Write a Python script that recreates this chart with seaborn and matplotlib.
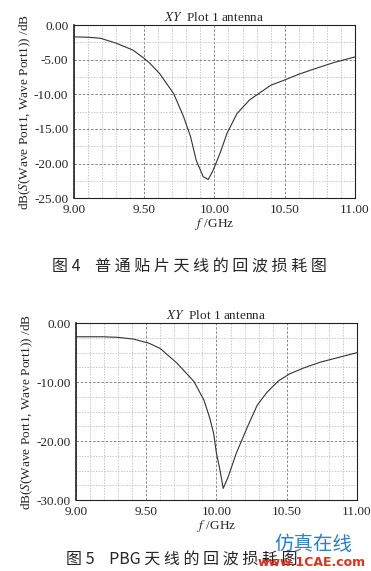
import numpy as np
import pandas as pd
import matplotlib
matplotlib.use("Agg")
import matplotlib.pyplot as plt
from matplotlib.ticker import MultipleLocator
import seaborn as sns

# données (fréquence en GHz, S11 en dB)
freq_patch = [9.00, 9.10, 9.19, 9.30, 9.42, 9.50, 9.54, 9.61, 9.71, 9.78, 9.83, 9.87, 9.92,
              9.956, 9.99, 10.04, 10.09, 10.16, 10.25, 10.40, 10.49, 10.60, 10.70,
              10.85, 11.00]
s11_patch = [-1.7, -1.75, -1.9, -2.6, -3.6, -4.8, -5.5, -7.0, -9.9, -13.2, -16.1, -19.5,
             -21.9, -22.3, -21.0, -18.5, -15.6, -12.8, -10.8, -8.7, -8.0, -7.1, -6.4,
             -5.4, -4.6]

freq_pbg = [9.00, 9.19, 9.30, 9.41, 9.52, 9.60, 9.72, 9.84, 9.91, 9.95, 9.98, 10.00,
            10.025, 10.048, 10.084, 10.14, 10.22, 10.29, 10.36, 10.44, 10.52, 10.62,
            10.74, 10.87, 11.00]
s11_pbg = [-2.3, -2.3, -2.4, -2.7, -3.4, -4.3, -6.8, -9.9, -13.0, -15.9, -18.7, -22.1,
           -24.9, -28.0, -26.0, -22.1, -17.6, -13.9, -11.7, -9.8, -8.6, -7.6, -6.6,
           -5.8, -5.0]

yticks_patch = [0, -5, -10, -15, -20, -25]
yticks_pbg = [0, -10, -20, -30]
xticks = [9.0, 9.5, 10.0, 10.5, 11.0]

sns.set_style("white")
plt.rcParams["font.family"] = ["Liberation Serif", "Noto Sans CJK SC", "DejaVu Sans"]
plt.rcParams["mathtext.fontset"] = "stix"

fig = plt.figure(figsize=(3.71, 5.71), dpi=100)
ax1 = fig.add_axes([0.199, 0.653, 0.758, 0.303])
ax2 = fig.add_axes([0.205, 0.124, 0.757, 0.310])


def trace(ax, f, s, yt, ymin):
    df = pd.DataFrame({"f": f, "s": s})
    sns.lineplot(data=df, x="f", y="s", ax=ax, color="#333333", linewidth=0.8)
    ax.set_xlim(9.0, 11.0)
    ax.set_ylim(ymin, 0)
    ax.set_xticks(xticks)
    ax.set_xticklabels([f"{v:.2f}" for v in xticks], fontsize=9.5)
    ax.set_yticks(yt)
    ax.set_yticklabels([f"{v:.2f}" for v in yt], fontsize=9.5)
    ax.xaxis.set_minor_locator(MultipleLocator(0.1))
    ax.yaxis.set_minor_locator(MultipleLocator(2.5))
    ax.grid(True, which="major", color="#777777", linestyle=(0, (3, 2)), linewidth=0.6)
    ax.grid(True, which="minor", color="#b0b0b0", linestyle=(0, (2, 2)), linewidth=0.5)
    ax.tick_params(axis="x", which="both", length=0, pad=4)
    ax.tick_params(axis="y", which="major", length=3, width=0.8, direction="out", pad=1)
    ax.tick_params(axis="y", which="minor", length=0)
    for sp in ax.spines.values():
        sp.set_color("#222222")
        sp.set_linewidth(0.8)
    ax.spines["left"].set_linewidth(1.2)
    ax.set_title(r"$\it{XY}$  Plot 1 antenna", fontsize=9.5, pad=3)
    ax.set_xlabel(r"$\it{f}$ /GHz", fontsize=9.5, labelpad=0)
    ax.set_ylabel(r"dB($\it{S}$(Wave Port1, Wave Port1)) /dB", fontsize=9.5, labelpad=1)


trace(ax1, freq_patch, s11_patch, yticks_patch, -25)
trace(ax2, freq_pbg, s11_pbg, yticks_pbg, -30)

fig.text(0.51, 1 - 267 / 571, "图 4    普 通 贴 片 天 线 的 回 波 损 耗 图", ha="center",
         va="center", fontsize=11.5, family=["Noto Sans CJK SC", "DejaVu Sans"])
fig.text(0.49, 1 - 560 / 571, "图 5    PBG 天 线 的 回 波 损 耗 图", ha="center",
         va="center", fontsize=11.5, family=["Noto Sans CJK SC", "DejaVu Sans"])

# filigrane en bas à droite
fig.text(0.845, 1 - 545 / 571, "仿真在线", ha="center", va="center", fontsize=14,
         color="#2a7fd4", family=["Noto Sans CJK SC", "DejaVu Sans"])
fig.text(0.84, 1 - 563 / 571, "www.1CAE.com", ha="center", va="center", fontsize=9,
         color="#e0301e", weight="bold", family=["DejaVu Sans"])

fig.savefig("out.png", dpi=100)
